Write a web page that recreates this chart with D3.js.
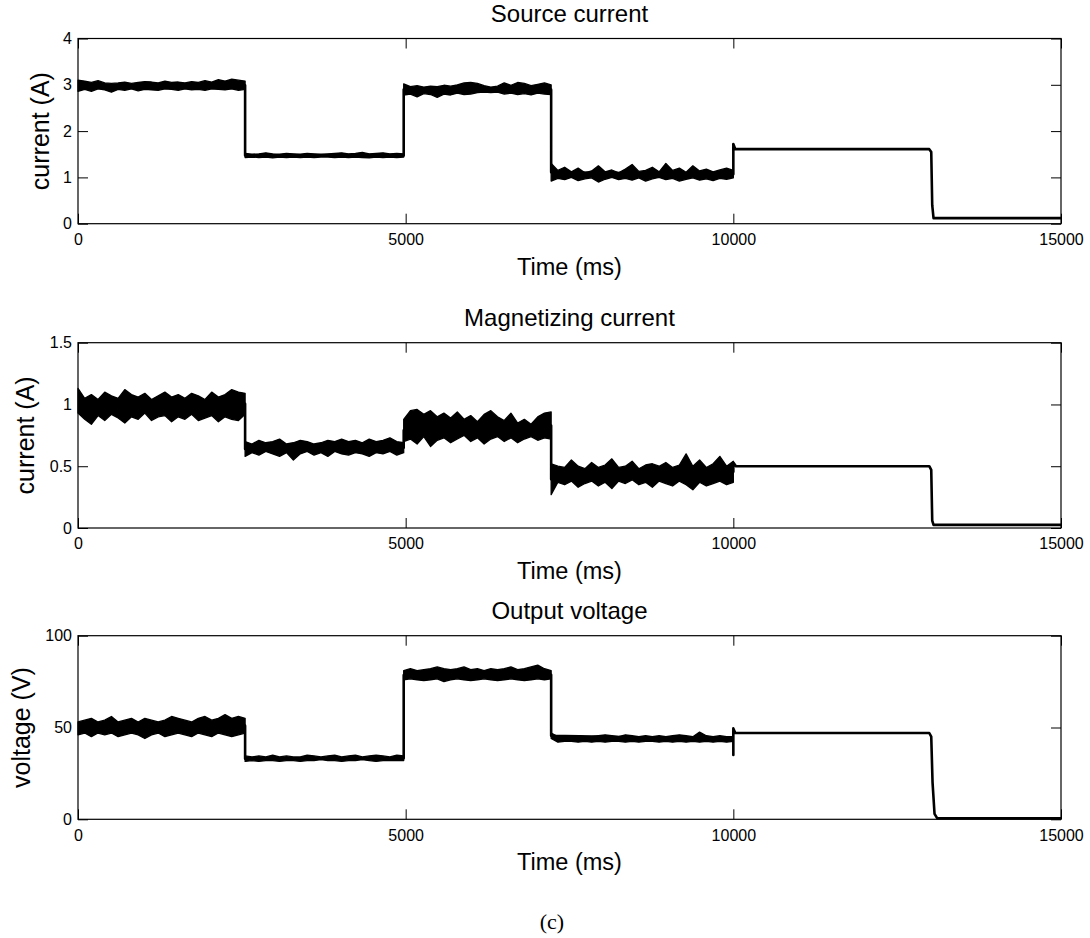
<!DOCTYPE html>
<html>
<head>
<meta charset="utf-8">
<script src="https://cdn.jsdelivr.net/npm/d3@7"></script>
<style>
  body { margin: 0; background: #fff; }
  svg { display: block; }
  text { font-family: "Liberation Sans", Arial, Helvetica, sans-serif; fill: #000; }
</style>
</head>
<body>
<svg id="chart" width="1090" height="938"></svg>
<script>
// ---- data ----
// noisy part: 4 segments, upper / lower envelope of the trace sampled evenly in each segment
const segStart = [0, 2550, 4970, 7220];
const segEnd = [2550, 4970, 7220, 10000];

const srcHi = [
    [3.10,3.08,3.05,3.09,3.04, 3.03,3.04,3.06,3.03,3.05, 3.07,3.06,3.04,3.08,3.05, 3.06,3.04,3.07,3.05,3.09, 3.06,3.11,3.08,3.12,3.10, 3.08],
    [1.52,1.50,1.51,1.53,1.51, 1.50,1.52,1.51,1.50,1.52, 1.51,1.50,1.51,1.52,1.53, 1.51,1.52,1.54,1.51,1.52, 1.53,1.51,1.52,1.51],
    [3.02,2.96,2.98,2.95,2.97, 2.96,2.99,2.97,3.00,3.04, 3.05,3.03,2.98,2.95,2.97, 3.04,2.99,3.05,3.03,2.98, 3.01,3.04,3.00],
    [1.30,1.15,1.22,1.12,1.20, 1.10,1.14,1.25,1.12,1.16, 1.10,1.18,1.28,1.13,1.15, 1.22,1.12,1.30,1.15,1.20, 1.11,1.25,1.14,1.18,1.12, 1.16,1.20,1.15]
];
const srcLo = [
    [2.86,2.90,2.86,2.91,2.89, 2.84,2.90,2.88,2.91,2.87, 2.90,2.89,2.88,2.91,2.90, 2.88,2.91,2.89,2.90,2.88, 2.91,2.90,2.89,2.91,2.88, 2.90],
    [1.43,1.44,1.43,1.44,1.42, 1.44,1.43,1.44,1.43,1.44, 1.43,1.44,1.44,1.43,1.44, 1.43,1.44,1.43,1.42,1.44, 1.43,1.44,1.43,1.44],
    [2.78,2.80,2.74,2.81,2.79, 2.73,2.80,2.78,2.82,2.79, 2.80,2.83,2.84,2.83,2.84, 2.80,2.82,2.79,2.81,2.78, 2.82,2.80,2.79],
    [0.92,0.98,0.95,1.00,0.93, 0.97,0.99,0.90,0.96,1.00, 0.95,0.98,0.94,0.99,0.92, 0.97,1.00,0.95,0.98,0.92, 0.96,0.99,0.94,0.97,0.93, 0.98,0.96,0.99]
];
const srcTail = [[10000,1.72],[10030,1.61],[12990,1.61],[13020,1.55],[13035,0.40],[13055,0.12],[15000,0.12]];

const magHi = [
    [1.13,1.05,1.08,1.04,1.10, 1.07,1.05,1.12,1.08,1.06, 1.09,1.04,1.07,1.10,1.06, 1.08,1.05,1.09,1.07,1.04, 1.10,1.06,1.08,1.12,1.10, 1.09],
    [0.70,0.68,0.71,0.69,0.70, 0.72,0.68,0.69,0.71,0.70, 0.68,0.69,0.71,0.70,0.72, 0.70,0.71,0.69,0.72,0.70, 0.71,0.73,0.70,0.69],
    [0.88,0.95,0.96,0.92,0.95, 0.90,0.93,0.89,0.94,0.88, 0.91,0.86,0.92,0.95,0.90, 0.87,0.93,0.85,0.88,0.84, 0.90,0.93,0.94],
    [0.52,0.50,0.49,0.55,0.50, 0.48,0.53,0.49,0.51,0.56, 0.49,0.50,0.54,0.48,0.51, 0.52,0.50,0.53,0.49,0.51, 0.60,0.50,0.55,0.49,0.52, 0.58,0.50,0.54]
];
const magLo = [
    [0.93,0.88,0.84,0.91,0.87, 0.92,0.89,0.85,0.90,0.88, 0.93,0.87,0.90,0.91,0.86, 0.90,0.88,0.92,0.87,0.89, 0.91,0.86,0.90,0.88,0.87, 0.92],
    [0.58,0.61,0.59,0.62,0.60, 0.58,0.61,0.55,0.60,0.62, 0.59,0.61,0.58,0.62,0.60, 0.59,0.61,0.60,0.58,0.61, 0.60,0.62,0.59,0.61],
    [0.70,0.72,0.68,0.74,0.66, 0.71,0.73,0.69,0.72,0.75, 0.70,0.73,0.68,0.72,0.74, 0.70,0.73,0.69,0.72,0.74, 0.71,0.73,0.72],
    [0.27,0.37,0.35,0.38,0.33, 0.36,0.38,0.34,0.37,0.32, 0.38,0.36,0.39,0.35,0.37, 0.33,0.38,0.36,0.34,0.38, 0.35,0.31,0.37,0.34,0.36, 0.38,0.35,0.37]
];
const magTail = [[10000,0.53],[10040,0.50],[12990,0.50],[13020,0.47],[13035,0.06],[13055,0.025],[15000,0.025]];

const voltHi = [
    [53,54,55,53,54, 56,53,54,55,53, 55,54,53,54,56, 55,54,53,55,56, 54,55,57,55,56, 55],
    [34.5,34,34.5,34,35, 34,34.5,34,34,35, 34.5,34,34.5,35,34, 34.5,35,34,34.5,35, 34.5,34,35,34.5],
    [81,82,81,81.5,82, 83,82,81.5,82,83, 81.5,82,81,82,81.5, 82,83,81.5,82,83, 84,82,81],
    [47,45,45.5,45,45.5, 45,45,45.5,46,45.5, 45,46,45.5,45,45.5, 45,45.5,45,45.5,46, 45.5,45,47.5,45.5,45, 45.5,45,45]
];
const voltLo = [
    [46,47,45,47,46, 47,45,46,47,46, 44,46,47,45,46, 47,46,45,47,46, 45,47,46,45,46, 47],
    [31.5,32,31.5,32,32, 31.5,32,32,31.5,32, 32,32.5,32,32,31.5, 32,32,32.5,32,31.5, 32,32,32,32],
    [76,76.5,76,75.5,76, 76.5,75,76,76.5,76, 75.5,76,76.5,76,75.5, 76,76.5,76,75.5,76, 76.5,76,76.5],
    [44,42,42.5,42.5,42, 42.5,42,42.5,42,42.5, 42.5,42,42.5,42,42.5, 42.5,42,42.5,42,42.5, 42,42.5,42,42.5,42, 42.5,42,42.5]
];
const voltTail = [[10000,35],[10000,49.5],[10030,47],[12990,47],[13020,45],[13040,20],[13070,3],[13110,0.6],[15000,0.6]];

const timeTicks = [0, 5000, 10000, 15000];
const srcTicks = [0, 1, 2, 3, 4];
const magTicks = [0, 0.5, 1, 1.5];
const voltTicks = [0, 50, 100];
const titles = ["Source current", "Magnetizing current", "Output voltage"];
const yLabels = ["current (A)", "current (A)", "voltage (V)"];
const xLabel = "Time (ms)";
const caption = "(c)";

// ---- layout ----
const svg = d3.select("#chart");
const left = 78, right = 1061;
const panelTop = [38.5, 342.7, 635.7];
const panelBottom = [223.7, 528, 819.3];
const yLabelX = [48.5, 33.5, 30];

const panels = [
    { hi: srcHi, lo: srcLo, tail: srcTail, ticks: srcTicks, max: 4 },
    { hi: magHi, lo: magLo, tail: magTail, ticks: magTicks, max: 1.5 },
    { hi: voltHi, lo: voltLo, tail: voltTail, ticks: voltTicks, max: 100 }
];

const x = d3.scaleLinear().domain([0, 15000]).range([left, right]);

panels.forEach((p, i) => {
    const top = panelTop[i], bottom = panelBottom[i];
    const y = d3.scaleLinear().domain([0, p.max]).range([bottom, top]);
    const g = svg.append("g");

    // axes, ticks pointing inward on all four sides
    const ax = [
        [d3.axisBottom(x).tickValues(timeTicks).tickFormat(d3.format("d")), `translate(0,${bottom})`, 10],
        [d3.axisTop(x).tickValues(timeTicks).tickFormat(""), `translate(0,${top})`, 3],
        [d3.axisLeft(y).tickValues(p.ticks).tickFormat(d => d), `translate(${left},0)`, 6],
        [d3.axisRight(y).tickValues(p.ticks).tickFormat(""), `translate(${right},0)`, 3]
    ];
    ax.forEach(([axis, tr, pad]) => {
        const a = g.append("g").attr("transform", tr)
            .call(axis.tickSizeInner(-10).tickSizeOuter(0).tickPadding(pad));
        a.select(".domain").remove();
        a.selectAll("line").attr("stroke", "#000").attr("stroke-width", 1);
        a.selectAll("text").style("font-size", "16px")
            .style("font-family", '"Liberation Sans", Arial, sans-serif').attr("fill", "#000");
    });

    g.append("rect")
        .attr("x", left).attr("y", top)
        .attr("width", right - left).attr("height", bottom - top)
        .attr("fill", "none").attr("stroke", "#000").attr("stroke-width", 1.2);

    // noisy band per segment
    const area = d3.area()
        .x(d => x(d.t)).y0(d => y(d.lo)).y1(d => y(d.hi));
    const trace = [];
    p.hi.forEach((hiArr, s) => {
        const tAt = d3.scaleLinear().domain([0, hiArr.length - 1]).range([segStart[s], segEnd[s]]);
        const pts = hiArr.map((h, k) => ({ t: tAt(k), hi: h, lo: p.lo[s][k] }));
        g.append("path").datum(pts)
            .attr("d", area)
            .attr("fill", "#000").attr("stroke", "#000")
            .attr("stroke-width", 1.3).attr("stroke-linejoin", "round");
        const first = pts[0], last = pts[pts.length - 1];
        trace.push([first.t, (first.hi + first.lo) / 2]);
        trace.push([last.t, (last.hi + last.lo) / 2]);
    });
    p.tail.forEach(d => trace.push(d));

    g.append("path").datum(trace)
        .attr("d", d3.line().x(d => x(d[0])).y(d => y(d[1])))
        .attr("fill", "none").attr("stroke", "#000")
        .attr("stroke-width", 2.6).attr("stroke-linejoin", "round");

    // texts
    g.append("text")
        .attr("x", (left + right) / 2).attr("y", top - 16.5)
        .attr("text-anchor", "middle").style("font-size", "24px")
        .text(titles[i]);
    g.append("text")
        .attr("x", (left + right) / 2).attr("y", bottom + 51)
        .attr("text-anchor", "middle").style("font-size", "23.5px")
        .text(xLabel);
    g.append("text")
        .attr("transform", `translate(${yLabelX[i]},${(top + bottom) / 2}) rotate(-90)`)
        .attr("text-anchor", "middle").style("font-size", "25px")
        .text(yLabels[i]);
});

svg.append("text")
    .attr("x", 552).attr("y", 929)
    .attr("text-anchor", "middle")
    .style("font-family", '"Liberation Serif", "Times New Roman", serif')
    .style("font-size", "22px")
    .text(caption);
</script>
</body>
</html>
